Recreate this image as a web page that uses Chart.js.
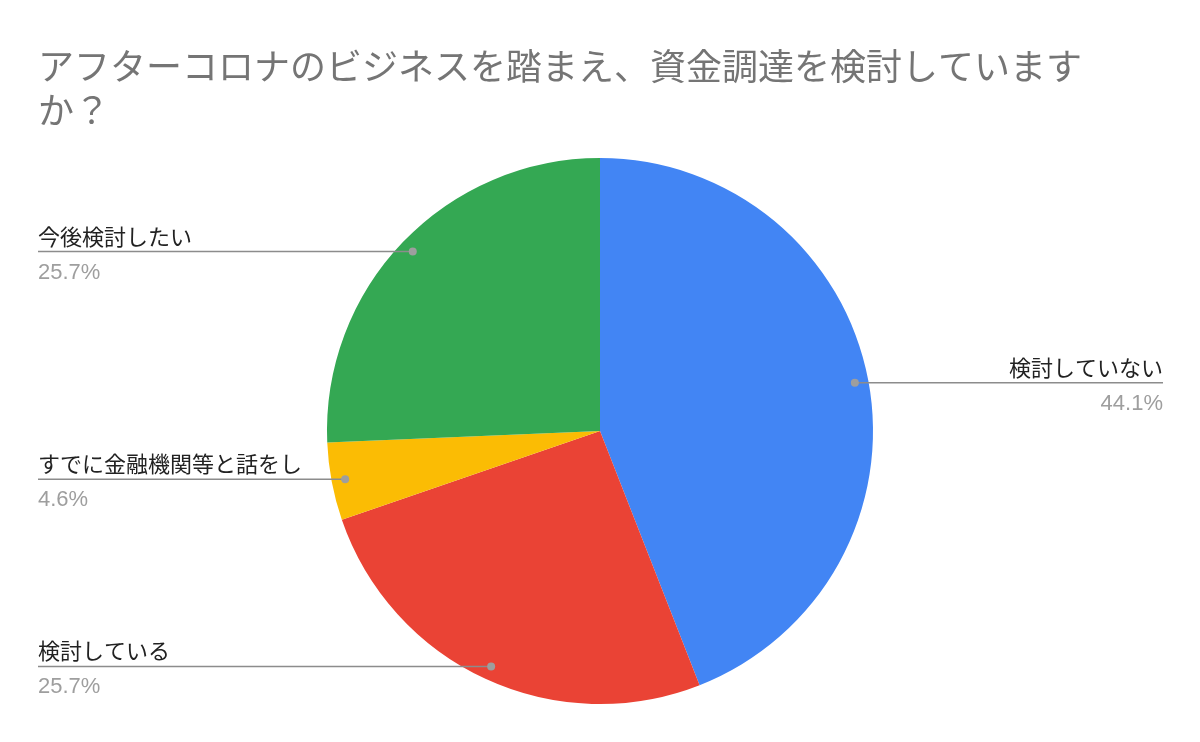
<!DOCTYPE html>
<html>
<head>
<meta charset="utf-8">
<script src="https://cdn.jsdelivr.net/npm/chart.js@4"></script>
<style>
  html, body { margin: 0; padding: 0; background: #fff; }
  #wrap { width: 1200px; height: 742px; position: relative; }
</style>
</head>
<body>
<div id="wrap"><canvas id="pieChart"></canvas></div>
<script>
    var titleLines = ['アフターコロナのビジネスを踏まえ、資金調達を検討しています', 'か？'];
    var categories = ['検討していない', '検討している', 'すでに金融機関等と話をし', '今後検討したい'];
    var values = [44.1, 25.7, 4.6, 25.7];
    var sliceColors = ['#4285F4', '#EA4335', '#FBBC04', '#34A853'];

    var cjkFont = "'Noto Sans CJK JP', sans-serif";
    var numFont = "'Liberation Sans', Arial, sans-serif";

    // title + leader-line labels, drawn like the Sheets pie
    var labelPlugin = {
        id: 'sheetLabels',
        afterDraw: function(chart) {
            var c = chart.ctx;
            c.save();
            c.fillStyle = '#757575';
            c.font = '36px ' + cjkFont;
            c.textAlign = 'left';
            c.textBaseline = 'alphabetic';
            c.fillText(titleLines[0], 38, 80);
            c.fillText(titleLines[1], 38, 124);

            var meta = chart.getDatasetMeta(0);
            meta.data.forEach(function(arc, i) {
                var mid = (arc.startAngle + arc.endAngle) / 2;
                var r = arc.outerRadius * 0.95;
                var px = arc.x + Math.cos(mid) * r;
                var py = arc.y + Math.sin(mid) * r;
                var right = px > arc.x;
                var endX = right ? 1163 : 38;

                c.strokeStyle = '#8c8c8c';
                c.lineWidth = 1.5;
                c.beginPath();
                c.moveTo(px, py);
                c.lineTo(endX, py);
                c.stroke();

                c.fillStyle = '#9e9e9e';
                c.beginPath();
                c.arc(px, py, 4, 0, Math.PI * 2);
                c.fill();

                c.textAlign = right ? 'right' : 'left';
                c.fillStyle = '#222222';
                c.font = '22px ' + cjkFont;
                c.fillText(categories[i], endX, py - 7);
                c.fillStyle = '#9e9e9e';
                c.font = '22px ' + numFont;
                c.fillText(values[i].toFixed(1) + '%', endX, py + 27);
            });
            c.restore();
        }
    };

    var ctx = document.getElementById('pieChart').getContext('2d');
    var pieChart = new Chart(ctx, {
        type: 'pie',
        data: {
            labels: categories,
            datasets: [{
                data: values,
                backgroundColor: sliceColors,
                borderWidth: 0
            }]
        },
        options: {
            responsive: true,
            maintainAspectRatio: false,
            animation: false,
            layout: {
                padding: { top: 158, bottom: 38, left: 0, right: 0 }
            },
            plugins: {
                legend: { display: false },
                tooltip: { enabled: false },
                title: { display: false }
            }
        },
        plugins: [labelPlugin]
    });
</script>
</body>
</html>
